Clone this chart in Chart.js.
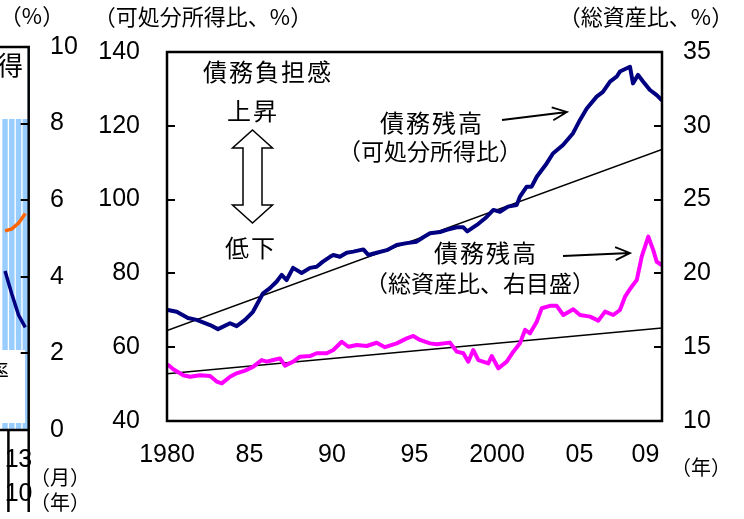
<!DOCTYPE html>
<html>
<head>
<meta charset="utf-8">
<script src="https://cdn.jsdelivr.net/npm/chart.js@4.4.1/dist/chart.umd.min.js"></script>
<style>
  html, body { margin: 0; padding: 0; background: #fff; overflow: hidden; }
  #wrap { position: relative; width: 744px; height: 519px; overflow: hidden; }
  #main { position: absolute; left: 0; top: 0; }
  #side { position: absolute; left: -10px; top: 0; }
</style>
</head>
<body>
<div id="wrap">
  <canvas id="main" width="744" height="519"></canvas>
  <canvas id="side" width="110" height="519"></canvas>
</div>
<script>
// debt outstanding / disposable income (left axis, %)
const incomeYears = [1980.06, 1980.59, 1981.27, 1981.8, 1982.61, 1983.09, 1983.82, 1984.22, 1984.73, 1985.21,
  1985.82, 1986.24, 1986.65, 1986.95, 1987.25, 1987.64, 1988.16, 1988.67, 1989.07, 1989.45,
  1989.88, 1990.08, 1990.48, 1990.89, 1991.29, 1991.9, 1992.2, 1992.71, 1993.32, 1993.92,
  1994.53, 1995.13, 1995.53, 1995.94, 1996.55, 1996.95, 1997.56, 1997.96, 1998.2, 1998.8,
  1999.3, 1999.78, 2000.18, 2000.67, 2001.19, 2001.39, 2001.8, 2002.1, 2002.41, 2003.01,
  2003.39, 2004.0, 2004.61, 2005.03, 2005.44, 2006.04, 2006.42, 2006.85, 2007.25, 2007.45,
  2008.06, 2008.24, 2008.55, 2008.85, 2009.27, 2009.68, 2009.98];
const incomeValues = [70.1, 69.6, 67.9, 67.4, 66.0, 64.9, 66.5, 65.7, 67.4, 69.6,
  74.6, 76.0, 77.8, 79.6, 78.2, 81.5, 80.1, 81.5, 81.8, 83.2,
  84.5, 85.0, 84.5, 85.6, 85.9, 86.5, 85.0, 85.6, 86.3, 87.7,
  88.2, 88.6, 89.8, 90.9, 91.2, 91.8, 92.5, 92.5, 91.4, 93.2,
  95.0, 97.2, 96.7, 98.1, 98.5, 100.8, 103.5, 103.5, 106.2, 109.8,
  112.5, 114.8, 118.0, 121.6, 124.7, 127.9, 129.2, 132.0, 133.3, 134.7,
  136.0, 131.5, 133.8, 132.0, 129.7, 128.3, 127.0];

// debt outstanding / total assets (right axis, %)
const assetYears = [1980.08, 1980.38, 1980.99, 1981.39, 1982.0, 1982.61, 1983.01, 1983.32, 1983.82, 1984.22,
  1984.73, 1985.23, 1985.74, 1986.04, 1986.44, 1986.85, 1987.15, 1987.65, 1988.06, 1988.67,
  1989.07, 1989.68, 1990.08, 1990.59, 1990.99, 1991.5, 1992.1, 1992.71, 1993.21, 1993.92,
  1994.53, 1994.93, 1995.33, 1995.94, 1996.35, 1997.15, 1997.56, 1997.96, 1998.26, 1998.56,
  1998.87, 1999.47, 1999.68, 2000.08, 2000.59, 2000.99, 2001.39, 2001.7, 2002.0, 2002.41,
  2002.71, 2003.21, 2003.62, 2004.02, 2004.62, 2005.03, 2005.64, 2006.14, 2006.55, 2007.05,
  2007.45, 2007.76, 2008.16, 2008.47, 2008.77, 2009.17, 2009.47, 2009.68, 2009.98];
const assetValues = [13.79, 13.5, 13.1, 13.0, 13.1, 13.05, 12.67, 12.55, 13.0, 13.23,
  13.41, 13.68, 14.13, 14.02, 14.13, 14.24, 13.75, 14.02, 14.36, 14.4,
  14.59, 14.59, 14.81, 15.37, 15.03, 15.15, 15.08, 15.3, 15.0, 15.26,
  15.6, 15.76, 15.49, 15.26, 15.2, 15.31, 14.7, 14.59, 14.02, 14.81,
  14.13, 13.9, 14.4, 13.57, 14.02, 14.7, 15.26, 16.17, 15.94, 16.73,
  17.64, 17.8, 17.8, 17.18, 17.57, 17.18, 17.07, 16.8, 17.41, 17.18,
  17.52, 18.42, 19.1, 19.55, 21.13, 22.49, 21.58, 20.79, 20.57];

// trend lines
const trendYears = [1980, 2010];
const trendIncome = [64.5, 113.6];
const trendAssets = [13.2, 16.3];

const xTickYears = [1980, 1985, 1990, 1995, 2000, 2005, 2009];
const xTickLabels = ['1980', '85', '90', '95', '2000', '05', '09'];

// the cut-off neighbouring chart on the left
const sideMonths = ['12', '1', '2', '3'];
const sideMonthLabels = ['', '1', '', '3'];
const sideShade = [10, 10, 10, 10];
const sideOrange = [5.2, 5.25, 5.4, 5.65];
const sideNavy = [4.15, 3.55, 3.0, 2.68];

const num = { family: '"Liberation Sans", Arial, sans-serif', size: 25 };
const jp = '"Noto Sans CJK JP", "Noto Sans CJK SC", sans-serif';

function pts(xs, ys) {
  return xs.map((x, i) => ({ x: x, y: ys[i] }));
}

function text(ctx, s, x, y, size, align) {
  ctx.font = size + 'px ' + jp;
  ctx.textAlign = align || 'center';
  ctx.textBaseline = 'middle';
  ctx.fillStyle = '#000';
  ctx.fillText(s, x, y);
}

function arrow(ctx, x1, y1, x2, y2) {
  const a = Math.atan2(y2 - y1, x2 - x1);
  ctx.beginPath();
  ctx.moveTo(x1, y1);
  ctx.lineTo(x2, y2);
  ctx.moveTo(x2 - 16 * Math.cos(a - 0.42), y2 - 16 * Math.sin(a - 0.42));
  ctx.lineTo(x2, y2);
  ctx.lineTo(x2 - 16 * Math.cos(a + 0.42), y2 - 16 * Math.sin(a + 0.42));
  ctx.stroke();
}

function inwardTicks(ctx, scale, x, dir) {
  scale.ticks.forEach(t => {
    if (t.value === scale.min || t.value === scale.max) return;
    const y = Math.round(scale.getPixelForValue(t.value));
    ctx.beginPath();
    ctx.moveTo(x, y);
    ctx.lineTo(x + dir * 8, y);
    ctx.stroke();
  });
}

const mainDecor = {
  id: 'mainDecor',
  afterDraw(chart) {
    const ctx = chart.ctx;
    const a = chart.chartArea;
    ctx.save();
    ctx.strokeStyle = '#000';
    ctx.lineWidth = 2.5;
    ctx.strokeRect(a.left, a.top, a.right - a.left, a.bottom - a.top);
    ctx.lineWidth = 2;
    inwardTicks(ctx, chart.scales.y, a.left, 1);
    inwardTicks(ctx, chart.scales.y2, a.right, -1);

    text(ctx, '（可処分所得比、%）', 203, 17, 22);
    text(ctx, '（総資産比、%）', 646, 17, 22);
    text(ctx, '（年）', 701, 467, 20);

    ctx.letterSpacing = '2px';
    text(ctx, '債務負担感', 268, 72, 24);
    text(ctx, '上昇', 253, 111, 24);
    text(ctx, '低下', 251, 248, 24);
    text(ctx, '債務残高', 432, 123, 24);
    text(ctx, '債務残高', 486, 253, 24);
    ctx.letterSpacing = '0px';
    text(ctx, '（可処分所得比）', 430, 151, 23);
    text(ctx, '（総資産比、右目盛）', 480, 283, 23);

    // hollow double arrow
    ctx.lineWidth = 1.5;
    ctx.fillStyle = '#fff';
    ctx.beginPath();
    ctx.moveTo(252.5, 130);
    ctx.lineTo(272.5, 148);
    ctx.lineTo(262, 148);
    ctx.lineTo(262, 205);
    ctx.lineTo(272.5, 205);
    ctx.lineTo(252.5, 223);
    ctx.lineTo(232.5, 205);
    ctx.lineTo(243, 205);
    ctx.lineTo(243, 148);
    ctx.lineTo(232.5, 148);
    ctx.closePath();
    ctx.fill();
    ctx.stroke();

    ctx.lineWidth = 1.8;
    arrow(ctx, 502, 120, 567, 112);
    arrow(ctx, 563, 256, 630, 253);
    ctx.restore();
  }
};

new Chart(document.getElementById('main'), {
  type: 'line',
  data: {
    datasets: [
      { data: pts(incomeYears, incomeValues), yAxisID: 'y', borderColor: '#000080', borderWidth: 4 },
      { data: pts(trendYears, trendIncome), yAxisID: 'y', borderColor: '#000', borderWidth: 1.6 },
      { data: pts(assetYears, assetValues), yAxisID: 'y2', borderColor: '#FF00FF', borderWidth: 4 },
      { data: pts(trendYears, trendAssets), yAxisID: 'y2', borderColor: '#000', borderWidth: 1.6 }
    ]
  },
  options: {
    responsive: false,
    animation: false,
    layout: { padding: { top: 52, left: 0, right: 0, bottom: 0 } },
    elements: {
      point: { radius: 0 },
      line: { tension: 0, borderJoinStyle: 'round', borderCapStyle: 'round' }
    },
    plugins: { legend: { display: false }, tooltip: { enabled: false } },
    scales: {
      x: {
        type: 'linear',
        min: 1980,
        max: 2010,
        grid: { display: false, drawTicks: false },
        border: { display: false },
        afterBuildTicks: s => { s.ticks = xTickYears.map(v => ({ value: v })); },
        ticks: {
          callback: (v, i) => xTickLabels[i],
          font: num, color: '#000', padding: 19, maxRotation: 0, autoSkip: false
        },
        afterFit: s => { s.height = 98; }
      },
      y: {
        position: 'left',
        min: 40,
        max: 140,
        grid: { display: false, drawTicks: false },
        border: { display: false },
        ticks: { stepSize: 20, font: num, color: '#000', padding: 27 },
        afterFit: s => { s.width = 167; }
      },
      y2: {
        position: 'right',
        min: 10,
        max: 35,
        grid: { display: false, drawTicks: false },
        border: { display: false },
        ticks: { stepSize: 5, font: num, color: '#000', padding: 21 },
        afterFit: s => { s.width = 82; }
      }
    }
  },
  plugins: [mainDecor]
});

const sideDecor = {
  id: 'sideDecor',
  afterDatasetsDraw(chart) {
    const ctx = chart.ctx;
    const a = chart.chartArea;
    const x = chart.scales.x;
    ctx.save();
    // white label boxes over the shading
    ctx.fillStyle = '#fff';
    ctx.fillRect(0, a.top, a.right - 1, 119 - a.top);
    ctx.fillRect(0, 350, 35, 73);
    text(ctx, '得', 33, 65, 26, 'right');
    text(ctx, '率', 19, 371, 22, 'right');

    ctx.strokeStyle = '#000';
    ctx.lineWidth = 2.5;
    ctx.beginPath();
    ctx.moveTo(0, a.top);
    ctx.lineTo(a.right, a.top);
    ctx.lineTo(a.right, 512);
    ctx.moveTo(0, a.bottom);
    ctx.lineTo(a.right, a.bottom);
    const sep = (x.getPixelForValue(0) + x.getPixelForValue(1)) / 2;
    ctx.moveTo(sep, a.bottom);
    ctx.lineTo(sep, 512);
    ctx.stroke();
    ctx.lineWidth = 2;
    inwardTicks(ctx, chart.scales.y, a.right, -1);

    text(ctx, '（%）', 42, 16, 22);
    text(ctx, '（月）', 70, 477, 20);
    text(ctx, '（年）', 70, 502, 20);
    ctx.font = '25px ' + num.family;
    ctx.textAlign = 'center';
    ctx.fillText('10', (x.getPixelForValue(1) + x.getPixelForValue(3)) / 2, 494);
    ctx.restore();
  }
};

new Chart(document.getElementById('side'), {
  type: 'bar',
  data: {
    labels: sideMonths,
    datasets: [
      { type: 'line', data: sideOrange, borderColor: '#FF6600', borderWidth: 3.5, pointRadius: 0, order: 0 },
      { type: 'line', data: sideNavy, borderColor: '#000080', borderWidth: 3.5, pointRadius: 0, order: 0 },
      { type: 'bar', data: sideShade, backgroundColor: '#99CCFF', barPercentage: 0.8, categoryPercentage: 1, order: 1 }
    ]
  },
  options: {
    responsive: false,
    animation: false,
    layout: { padding: { top: 47, left: 0.3, right: 0, bottom: 0 } },
    plugins: { legend: { display: false }, tooltip: { enabled: false } },
    scales: {
      x: {
        grid: { display: false, drawTicks: false },
        border: { display: false },
        ticks: {
          callback: (v, i) => sideMonthLabels[i],
          font: { family: num.family, size: 25 }, color: '#000', padding: 15, maxRotation: 0, autoSkip: false
        },
        afterFit: s => { s.height = 89; }
      },
      y: {
        position: 'right',
        min: 0,
        max: 10,
        grid: { display: false, drawTicks: false },
        border: { display: false },
        ticks: { stepSize: 2, font: num, color: '#000', padding: 21.3 },
        afterFit: s => { s.width = 71.3; }
      }
    }
  },
  plugins: [sideDecor]
});
</script>
</body>
</html>
